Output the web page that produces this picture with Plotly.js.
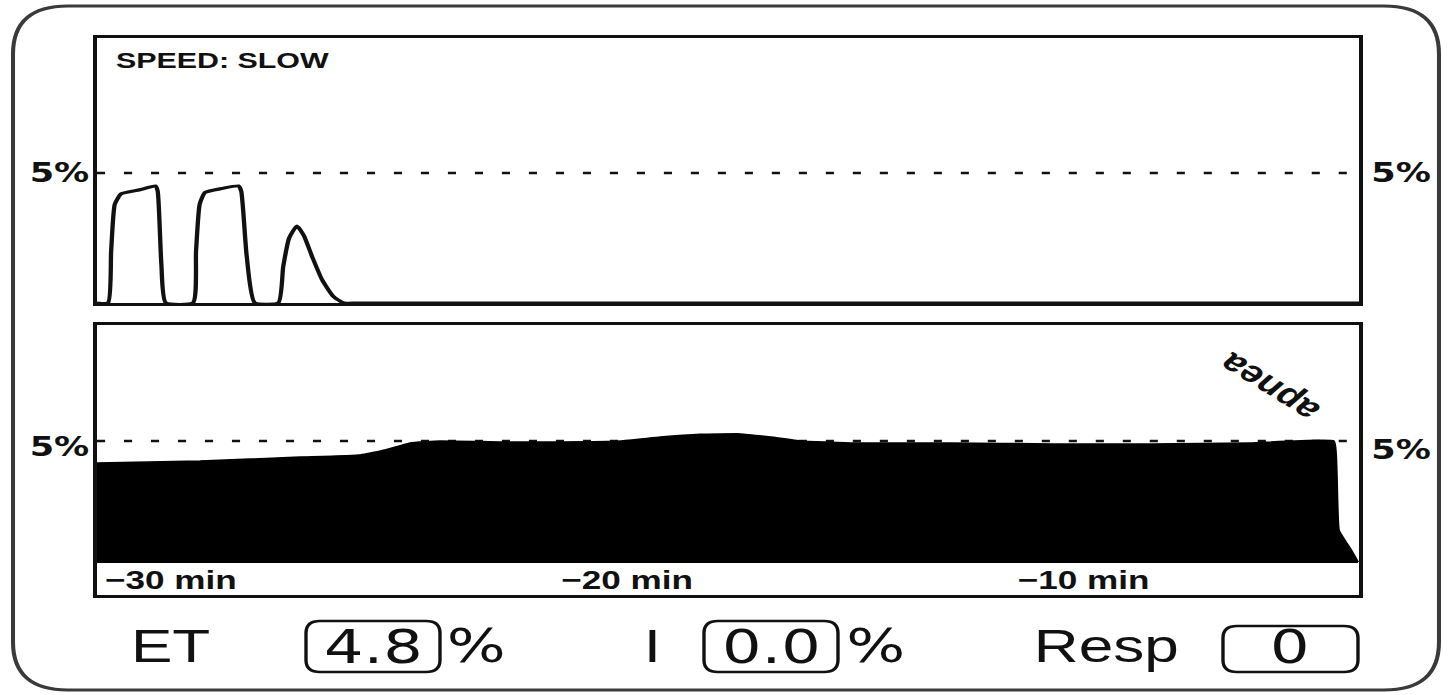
<!DOCTYPE html>
<html>
<head>
<meta charset="utf-8">
<script src="https://cdn.plot.ly/plotly-3.0.1.min.js"></script>
<style>
  html, body { margin: 0; padding: 0; background: #fff; overflow: hidden; }
  #plot { width: 1078px; height: 695px; transform: scaleX(1.3497); transform-origin: 0 0; }
</style>
</head>
<body>
<div id="plot"></div>
<script>
// ---------------- DATA ----------------
// Time axis in minutes (negative = minutes before now)
const inspTime = [-30.13, -29.89, -29.82, -29.74, -29.6, -29.2, -28.85, -28.8, -28.72, -28.62,
                  -28.03, -27.96, -27.88, -27.76, -27.4, -27.03, -26.97, -26.85, -26.67,
                  -26.16, -26.05, -25.92, -25.75, -25.6, -25.42, -25.2, -24.95, -24.72,
                  -24.4, -15.0, -5.0, -2.9, -2.48];
// Inspired agent concentration (%)
const inspPct  = [0, 0, 2.0, 3.8, 4.2, 4.35, 4.5, 4.3, 1.5, 0,
                  0, 2.0, 3.8, 4.25, 4.4, 4.5, 4.3, 1.8, 0,
                  0, 1.4, 2.5, 2.96, 2.6, 1.8, 0.9, 0.25, 0,
                  0, 0, 0, 0, 0];

const etTime = [-30.13, -27.87, -25.68, -24.36, -23.82, -23.27, -22.61, -21.29, -19.98, -18.66,
                -17.79, -16.91, -16.03, -15.37, -14.71, -13.62, -11.43, -9.23, -7.04, -4.85,
                -3.03, -2.97, -2.92, -2.65, -2.5];
// End-tidal agent concentration (%)
const etPct  = [4.10, 4.18, 4.34, 4.43, 4.63, 4.92, 5.0, 4.96, 4.96, 5.0,
                5.16, 5.27, 5.29, 5.16, 5.0, 4.92, 4.92, 4.88, 4.88, 4.92,
                5.0, 3.81, 1.35, 0.53, 0.04];

const refLevel = 5;                  // dashed reference line (%)
const refLabel = '5%';
const xTickVals = [-30, -20, -10];
const xTickText = ['\u221230 min', '\u221220 min', '\u221210 min'];
const speedText = 'SPEED: SLOW';
const eventText = 'apnea';

const readLabels = ['ET', 'I', 'Resp'];
const readValues = ['4.8', '0.0', '0'];
const readUnits  = ['%', '%', ''];

// ---------------- LAYOUT HELPERS (reference pixel -> paper) ----------------
const W = 1455, H = 695;
const PX = x => x / W;
const PY = y => 1 - y / H;

function roundRect(x0, y0, x1, y1, rx, ry) {
  return 'M' + PX(x0 + rx) + ',' + PY(y0) +
    ' L' + PX(x1 - rx) + ',' + PY(y0) +
    ' Q' + PX(x1) + ',' + PY(y0) + ' ' + PX(x1) + ',' + PY(y0 + ry) +
    ' L' + PX(x1) + ',' + PY(y1 - ry) +
    ' Q' + PX(x1) + ',' + PY(y1) + ' ' + PX(x1 - rx) + ',' + PY(y1) +
    ' L' + PX(x0 + rx) + ',' + PY(y1) +
    ' Q' + PX(x0) + ',' + PY(y1) + ' ' + PX(x0) + ',' + PY(y1 - ry) +
    ' L' + PX(x0) + ',' + PY(y0 + ry) +
    ' Q' + PX(x0) + ',' + PY(y0) + ' ' + PX(x0 + rx) + ',' + PY(y0) + ' Z';
}

const ink = '#111111';
const xRange = [-30.13, -2.48];

const traces = [
  { x: inspTime, y: inspPct, type: 'scatter', mode: 'lines', xaxis: 'x', yaxis: 'y',
    line: { color: ink, width: 3.2, shape: 'spline', smoothing: 0.5 }, hoverinfo: 'skip' },
  { x: etTime, y: etPct, type: 'scatter', mode: 'lines', xaxis: 'x2', yaxis: 'y2',
    fill: 'tozeroy', fillcolor: '#000', line: { color: '#000', width: 1.5, shape: 'spline', smoothing: 0.3 }, hoverinfo: 'skip' }
];

const axBase = { showgrid: false, zeroline: false, showline: true, mirror: true,
                 linecolor: ink, linewidth: 3, ticks: '', fixedrange: true };

const layout = {
  width: 1078, height: 695, autosize: false,
  margin: { l: 0, r: 0, t: 0, b: 0, pad: 0 },
  paper_bgcolor: '#fff', plot_bgcolor: '#fff',
  showlegend: false,
  xaxis: Object.assign({}, axBase, { domain: [PX(97), PX(1359)], range: xRange, anchor: 'y', showticklabels: false }),
  yaxis: Object.assign({}, axBase, { domain: [PY(303), PY(38)], range: [0, 10.19], anchor: 'x', showticklabels: false }),
  xaxis2: Object.assign({}, axBase, { domain: [PX(97), PX(1359)], range: xRange, anchor: 'y2',
      tickmode: 'array', tickvals: xTickVals, ticktext: xTickText, ticklabelposition: 'inside right',
      tickfont: { family: 'Liberation Sans, Arial, sans-serif', size: 26, color: ink, weight: 'bold' } }),
  yaxis2: Object.assign({}, axBase, { domain: [PY(595), PY(325)], range: [-1.31, 9.75], anchor: 'x2', showticklabels: false }),
  shapes: [
    // outer rounded frame
    { type: 'path', xref: 'paper', yref: 'paper', path: roundRect(13, 6, 1439, 690, 55, 48),
      line: { color: '#3a3a3a', width: 3 }, layer: 'below' },
    // dashed reference lines
    { type: 'line', xref: 'x domain', yref: 'y', x0: 0, x1: 1, y0: refLevel, y1: refLevel,
      line: { color: ink, width: 2.5, dash: '6px,14px' }, layer: 'above' },
    { type: 'line', xref: 'x2 domain', yref: 'y2', x0: 0, x1: 1, y0: refLevel, y1: refLevel,
      line: { color: ink, width: 2.5, dash: '6px,14px' }, layer: 'below' },
    // readout boxes
    { type: 'path', xref: 'paper', yref: 'paper', path: roundRect(306, 621, 440, 672, 14, 12),
      line: { color: ink, width: 2.5 } },
    { type: 'path', xref: 'paper', yref: 'paper', path: roundRect(704, 621, 838, 672, 14, 12),
      line: { color: ink, width: 2.5 } },
    { type: 'path', xref: 'paper', yref: 'paper', path: roundRect(1223, 626, 1358, 672, 14, 12),
      line: { color: ink, width: 2.5 } }
  ],
  annotations: []
};

const boldFont = (size) => ({ family: 'DejaVu Sans, sans-serif', size: size, color: ink, weight: 'bold' });
const ann = layout.annotations;

// 5% labels
ann.push({ xref: 'paper', yref: 'paper', x: PX(92), y: PY(173), xanchor: 'right', yanchor: 'middle',
  text: refLabel, showarrow: false, font: boldFont(26) });
ann.push({ xref: 'paper', yref: 'paper', x: PX(1368), y: PY(173), xanchor: 'left', yanchor: 'middle',
  text: refLabel, showarrow: false, font: boldFont(26) });
ann.push({ xref: 'paper', yref: 'paper', x: PX(92), y: PY(447), xanchor: 'right', yanchor: 'middle',
  text: refLabel, showarrow: false, font: boldFont(26) });
ann.push({ xref: 'paper', yref: 'paper', x: PX(1368), y: PY(450), xanchor: 'left', yanchor: 'middle',
  text: refLabel, showarrow: false, font: boldFont(26) });

// speed label
ann.push({ xref: 'paper', yref: 'paper', x: PX(114), y: PY(60), xanchor: 'left', yanchor: 'middle',
  text: speedText, showarrow: false,
  font: { family: 'Liberation Sans, Arial, sans-serif', size: 22.5, color: ink, weight: 'bold' } });

// event marker (rotated)
ann.push({ xref: 'paper', yref: 'paper', x: PX(1268), y: PY(388), xanchor: 'center', yanchor: 'middle',
  text: eventText, showarrow: false, textangle: -140,
  font: { family: 'Liberation Sans, Arial, sans-serif', size: 30, color: ink, weight: 'bold' } });

// readouts
const labelX = [171, 652, 1106];
const valueX = [373, 771, 1290];
const unitX  = [477, 876, null];
const sansFont = (size) => ({ family: 'Liberation Sans, Arial, sans-serif', size: size, color: ink });
const numFont  = (size) => ({ family: 'DejaVu Sans, sans-serif', size: size, color: ink });
for (let i = 0; i < readLabels.length; i++) {
  ann.push({ xref: 'paper', yref: 'paper', x: PX(labelX[i]), y: PY(646), xanchor: 'center', yanchor: 'middle',
    text: readLabels[i], showarrow: false, font: sansFont(46) });
  ann.push({ xref: 'paper', yref: 'paper', x: PX(valueX[i]), y: PY(647), xanchor: 'center', yanchor: 'middle',
    text: readValues[i], showarrow: false, font: numFont(46) });
  if (readUnits[i]) {
    ann.push({ xref: 'paper', yref: 'paper', x: PX(unitX[i]), y: PY(646), xanchor: 'center', yanchor: 'middle',
      text: readUnits[i], showarrow: false, font: numFont(46) });
  }
}

Plotly.newPlot('plot', traces, layout, { staticPlot: true, displayModeBar: false, responsive: false });
</script>
</body>
</html>
